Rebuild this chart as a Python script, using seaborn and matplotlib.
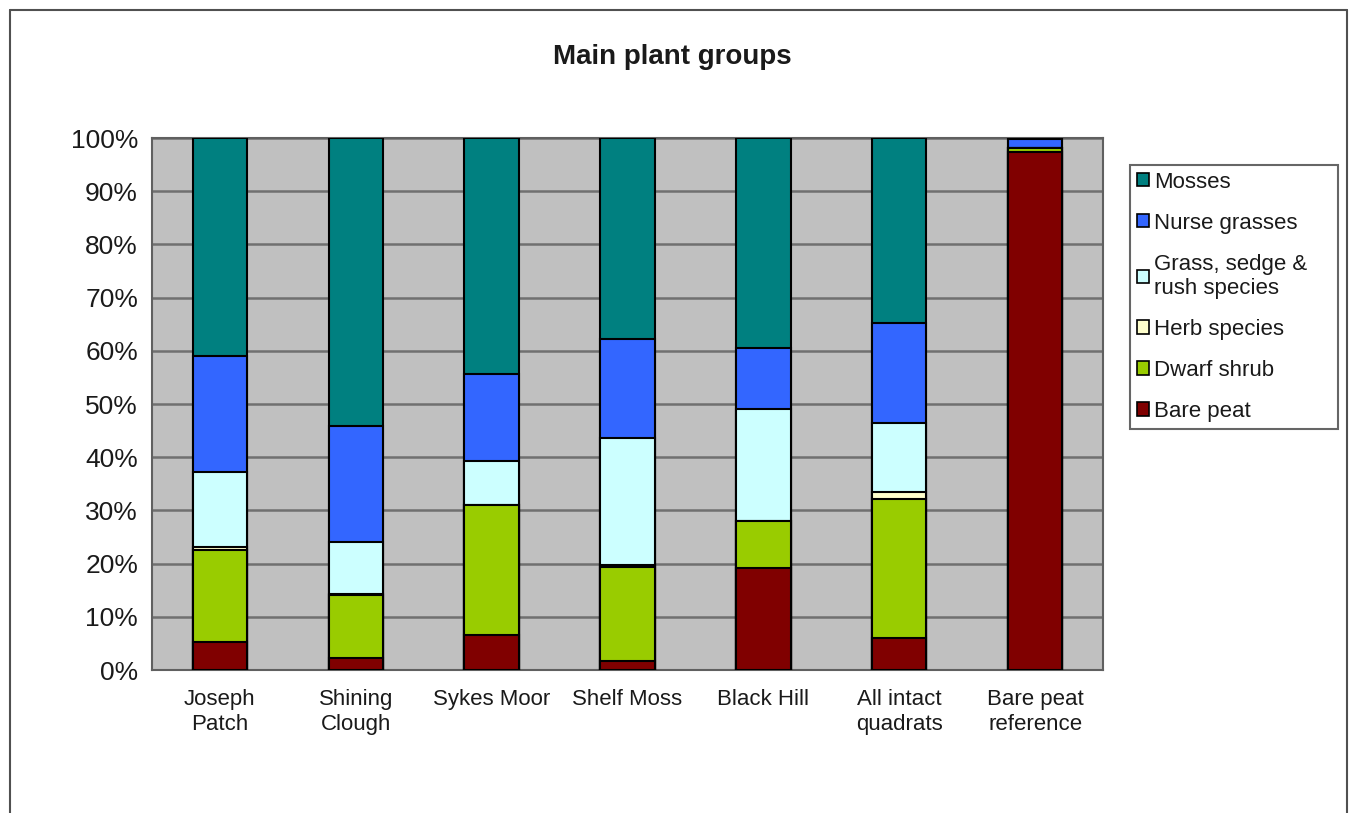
import matplotlib
matplotlib.use('Agg')
import matplotlib.pyplot as plt
import pandas as pd
import seaborn as sns
from matplotlib.patches import Patch
from matplotlib.lines import Line2D


sites = ['Joseph\nPatch', 'Shining\nClough', 'Sykes Moor', 'Shelf Moss',
         'Black Hill', 'All intact\nquadrats', 'Bare peat\nreference']

# percentage cover, bottom to top
bare_peat = [5.2, 2.2, 6.6, 1.7, 19.1, 6.0, 97.4]
dwarf_shrub = [17.4, 11.9, 24.4, 17.7, 8.9, 26.1, 0.7]
herb_species = [0.5, 0.2, 0.0, 0.4, 0.0, 1.4, 0.0]
grass_sedge = [14.1, 9.7, 8.3, 23.9, 21.1, 12.9, 0.0]
nurse_grasses = [21.8, 21.9, 16.3, 18.5, 11.4, 18.8, 1.7]
mosses = [41.0, 54.1, 44.4, 37.8, 39.5, 34.8, 0.2]

groups = ['Bare peat', 'Dwarf shrub', 'Herb species',
          'Grass, sedge &\nrush species', 'Nurse grasses', 'Mosses']
values = [bare_peat, dwarf_shrub, herb_species, grass_sedge, nurse_grasses, mosses]
colors = ['#800000', '#99CC00', '#FFFFCC', '#CCFFFF', '#3366FF', '#008080']


def main():
    df = pd.DataFrame({g: v for g, v in zip(groups, values)}, index=sites)
    cum = df.cumsum(axis=1)

    sns.set_style('white')
    plt.rcParams['font.family'] = ['Liberation Sans', 'DejaVu Sans']
    plt.rcParams['text.color'] = '#1a1a1a'
    plt.rcParams['xtick.color'] = '#1a1a1a'
    plt.rcParams['ytick.color'] = '#1a1a1a'

    fig = plt.figure(figsize=(13.5, 8.13), dpi=100)
    ax = fig.add_axes([152 / 1350, 1 - 670 / 813, (1103 - 152) / 1350, (670 - 138) / 813])
    ax.set_facecolor('#C0C0C0')

    # overlay cumulative bars, tallest first
    for g, c in zip(groups[::-1], colors[::-1]):
        sns.barplot(x=sites, y=cum[g].values, color=c, saturation=1, width=0.4,
                    edgecolor='black', linewidth=1.5, ax=ax, zorder=3)

    ax.set_ylim(0, 100)
    ax.set_xlim(-0.5, len(sites) - 0.5)
    ax.set_yticks(range(0, 101, 10))
    ax.set_yticklabels([f'{t}%' for t in range(0, 101, 10)], fontsize=19)
    ax.yaxis.grid(True, color='#707070', linewidth=1.8, zorder=0)
    ax.set_axisbelow(True)
    ax.tick_params(axis='y', length=6, width=1.2, color='#505050', pad=4)
    ax.set_xticks(range(len(sites)))
    ax.set_xticklabels(sites, fontsize=16, linespacing=1.25)
    ax.tick_params(axis='x', length=0, pad=14)
    ax.set_xticks([i - 0.5 for i in range(len(sites) + 1)], minor=True)
    ax.tick_params(axis='x', which='minor', length=8, width=1.2, color='#505050')
    for s in ax.spines.values():
        s.set_color('#606060')
        s.set_linewidth(1.5)

    fig.text(672 / 1350, 1 - 57 / 813, 'Main plant groups', ha='center', va='center',
             fontsize=20, fontweight='bold')

    handles = [Patch(facecolor=c, edgecolor='black', linewidth=1.2) for c in colors[::-1]]
    leg = fig.legend(handles, groups[::-1], loc='upper left', mode='expand',
                     bbox_to_anchor=(1130 / 1350, 1 - 440 / 813, 208 / 1350, 275 / 813),
                     fontsize=16, frameon=True, fancybox=False,
                     handlelength=0.55, handleheight=0.55, handletextpad=0.25,
                     labelspacing=0.9, borderpad=0.3, borderaxespad=0)
    leg.get_frame().set_edgecolor('#404040')
    leg.get_frame().set_linewidth(1.5)

    # outer chart border
    for xs, ys in [([10, 10], [813, 10]), ([10, 1347], [10, 10]), ([1347, 1347], [10, 813])]:
        fig.add_artist(Line2D([x / 1350 for x in xs], [1 - y / 813 for y in ys],
                              color='#505050', linewidth=1.5))

    fig.savefig('out.png', dpi=100)


if __name__ == '__main__':
    main()
